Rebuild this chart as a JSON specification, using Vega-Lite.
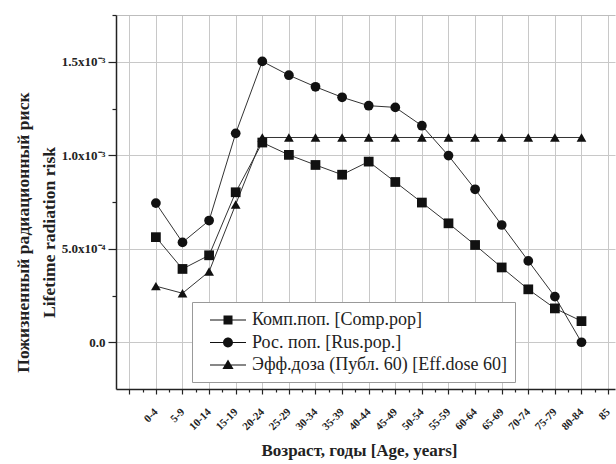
{
  "$schema": "https://vega.github.io/schema/vega-lite/v6.json",
  "width": 499,
  "height": 374,
  "autosize": "none",
  "padding": {"left": 116, "top": 15, "right": 1, "bottom": 75},
  "config": {
    "font": "Liberation Serif",
    "view": {"stroke": null},
    "axis": {
      "domainColor": "#222",
      "domainWidth": 1.5,
      "tickColor": "#222",
      "tickWidth": 1.2,
      "gridColor": "#c8c8c8",
      "gridWidth": 1,
      "labelFont": "Liberation Serif",
      "labelFontWeight": "bold",
      "labelFontSize": 11,
      "labelColor": "#222",
      "titleFont": "Liberation Serif",
      "titleFontWeight": "bold",
      "titleFontSize": 17,
      "titleColor": "#222"
    }
  },
  "datasets": {
    "risk": [
      {"age": "0-4", "i": 0, "series": "Комп.поп. [Comp.pop]", "v": 0.000562},
      {"age": "5-9", "i": 1, "series": "Комп.поп. [Comp.pop]", "v": 0.000392},
      {"age": "10-14", "i": 2, "series": "Комп.поп. [Comp.pop]", "v": 0.000465},
      {"age": "15-19", "i": 3, "series": "Комп.поп. [Comp.pop]", "v": 0.000802},
      {"age": "20-24", "i": 4, "series": "Комп.поп. [Comp.pop]", "v": 0.001068},
      {"age": "25-29", "i": 5, "series": "Комп.поп. [Comp.pop]", "v": 0.001002},
      {"age": "30-34", "i": 6, "series": "Комп.поп. [Comp.pop]", "v": 0.000948},
      {"age": "35-39", "i": 7, "series": "Комп.поп. [Comp.pop]", "v": 0.000896},
      {"age": "40-44", "i": 8, "series": "Комп.поп. [Comp.pop]", "v": 0.000966},
      {"age": "45-49", "i": 9, "series": "Комп.поп. [Comp.pop]", "v": 0.000857},
      {"age": "50-54", "i": 10, "series": "Комп.поп. [Comp.pop]", "v": 0.000747},
      {"age": "55-59", "i": 11, "series": "Комп.поп. [Comp.pop]", "v": 0.000636},
      {"age": "60-64", "i": 12, "series": "Комп.поп. [Comp.pop]", "v": 0.00052},
      {"age": "65-69", "i": 13, "series": "Комп.поп. [Comp.pop]", "v": 0.0004},
      {"age": "70-74", "i": 14, "series": "Комп.поп. [Comp.pop]", "v": 0.000283},
      {"age": "75-79", "i": 15, "series": "Комп.поп. [Comp.pop]", "v": 0.000181},
      {"age": "80-84", "i": 16, "series": "Комп.поп. [Comp.pop]", "v": 0.000113},
      {"age": "0-4", "i": 0, "series": "Рос. поп. [Rus.pop.]", "v": 0.000744},
      {"age": "5-9", "i": 1, "series": "Рос. поп. [Rus.pop.]", "v": 0.000534},
      {"age": "10-14", "i": 2, "series": "Рос. поп. [Rus.pop.]", "v": 0.000651},
      {"age": "15-19", "i": 3, "series": "Рос. поп. [Rus.pop.]", "v": 0.001117},
      {"age": "20-24", "i": 4, "series": "Рос. поп. [Rus.pop.]", "v": 0.001502},
      {"age": "25-29", "i": 5, "series": "Рос. поп. [Rus.pop.]", "v": 0.001428},
      {"age": "30-34", "i": 6, "series": "Рос. поп. [Rus.pop.]", "v": 0.001366},
      {"age": "35-39", "i": 7, "series": "Рос. поп. [Rus.pop.]", "v": 0.00131},
      {"age": "40-44", "i": 8, "series": "Рос. поп. [Rus.pop.]", "v": 0.001265},
      {"age": "45-49", "i": 9, "series": "Рос. поп. [Rus.pop.]", "v": 0.001256},
      {"age": "50-54", "i": 10, "series": "Рос. поп. [Rus.pop.]", "v": 0.001158},
      {"age": "55-59", "i": 11, "series": "Рос. поп. [Rus.pop.]", "v": 0.000998},
      {"age": "60-64", "i": 12, "series": "Рос. поп. [Rus.pop.]", "v": 0.000818},
      {"age": "65-69", "i": 13, "series": "Рос. поп. [Rus.pop.]", "v": 0.000627},
      {"age": "70-74", "i": 14, "series": "Рос. поп. [Rus.pop.]", "v": 0.000435},
      {"age": "75-79", "i": 15, "series": "Рос. поп. [Rus.pop.]", "v": 0.000244},
      {"age": "80-84", "i": 16, "series": "Рос. поп. [Rus.pop.]", "v": 0.0},
      {"age": "0-4", "i": 0, "series": "Эфф.доза (Публ. 60) [Eff.dose 60]", "v": 0.0003},
      {"age": "5-9", "i": 1, "series": "Эфф.доза (Публ. 60) [Eff.dose 60]", "v": 0.000262},
      {"age": "10-14", "i": 2, "series": "Эфф.доза (Публ. 60) [Eff.dose 60]", "v": 0.000378},
      {"age": "15-19", "i": 3, "series": "Эфф.доза (Публ. 60) [Eff.dose 60]", "v": 0.000737},
      {"age": "20-24", "i": 4, "series": "Эфф.доза (Публ. 60) [Eff.dose 60]", "v": 0.001095},
      {"age": "25-29", "i": 5, "series": "Эфф.доза (Публ. 60) [Eff.dose 60]", "v": 0.001095},
      {"age": "30-34", "i": 6, "series": "Эфф.доза (Публ. 60) [Eff.dose 60]", "v": 0.001095},
      {"age": "35-39", "i": 7, "series": "Эфф.доза (Публ. 60) [Eff.dose 60]", "v": 0.001095},
      {"age": "40-44", "i": 8, "series": "Эфф.доза (Публ. 60) [Eff.dose 60]", "v": 0.001095},
      {"age": "45-49", "i": 9, "series": "Эфф.доза (Публ. 60) [Eff.dose 60]", "v": 0.001095},
      {"age": "50-54", "i": 10, "series": "Эфф.доза (Публ. 60) [Eff.dose 60]", "v": 0.001095},
      {"age": "55-59", "i": 11, "series": "Эфф.доза (Публ. 60) [Eff.dose 60]", "v": 0.001095},
      {"age": "60-64", "i": 12, "series": "Эфф.доза (Публ. 60) [Eff.dose 60]", "v": 0.001095},
      {"age": "65-69", "i": 13, "series": "Эфф.доза (Публ. 60) [Eff.dose 60]", "v": 0.001095},
      {"age": "70-74", "i": 14, "series": "Эфф.доза (Публ. 60) [Eff.dose 60]", "v": 0.001095},
      {"age": "75-79", "i": 15, "series": "Эфф.доза (Публ. 60) [Eff.dose 60]", "v": 0.001095},
      {"age": "80-84", "i": 16, "series": "Эфф.доза (Публ. 60) [Eff.dose 60]", "v": 0.001095}
    ]
  },
  "data": {"name": "risk"},
  "layer": [
    {
      "mark": {"type": "line", "color": "#333", "strokeWidth": 1},
      "encoding": {
        "x": {
          "field": "i", "type": "quantitative",
          "scale": {"domain": [-1.5, 17.26], "nice": false, "zero": false},
          "axis": {
            "values": [-1, 0, 1, 2, 3, 4, 5, 6, 7, 8, 9, 10, 11, 12, 13, 14, 15, 16, 17],
            "labelExpr": "datum.value < 0 ? '' : datum.value > 16.5 ? '85' : ['0-4','5-9','10-14','15-19','20-24','25-29','30-34','35-39','40-44','45-49','50-54','55-59','60-64','65-69','70-74','75-79','80-84'][datum.value]",
            "labelAngle": -45,
            "labelAlign": "right",
            "labelBaseline": "middle",
            "labelPadding": 16,
            "labelFontSize": 11,
            "tickSize": 5,
            "grid": true,
            "title": "Возраст, годы [Age, years]",
            "titleX": 243,
            "titleY": 66,
            "titleBaseline": "alphabetic"
          }
        },
        "y": {
          "field": "v", "type": "quantitative",
          "scale": {"domain": [-0.00025, 0.00175], "nice": false, "zero": false},
          "axis": {
            "values": [0, 0.0005, 0.001, 0.0015],
            "labelExpr": "datum.value < 0.00001 ? '0.0' : datum.value < 0.0007 ? '5.0x10⁻⁴' : datum.value < 0.0012 ? '1.0x10⁻³' : '1.5x10⁻³'",
            "labelFontSize": 13,
            "tickSize": 8,
            "labelPadding": 3,
            "grid": true,
            "title": ["Пожизненный радиационный риск", "Lifetime radiation risk"],
            "titleFontSize": 17.6,
            "titleLineHeight": 26,
            "titleAngle": -90,
            "titleBaseline": "bottom",
            "titleX": -84,
            "titleY": 217
          }
        },
        "detail": {"field": "series"}
      }
    },
    {
      "mark": {"type": "point", "filled": true, "color": "#111", "opacity": 1, "size": 95},
      "encoding": {
        "x": {"field": "i", "type": "quantitative", "axis": null},
        "y": {"field": "v", "type": "quantitative", "axis": null},
        "shape": {
          "field": "series", "type": "nominal",
          "scale": {
            "domain": ["Комп.поп. [Comp.pop]", "Рос. поп. [Rus.pop.]", "Эфф.доза (Публ. 60) [Eff.dose 60]"],
            "range": ["square", "circle", "triangle-up"]
          },
          "legend": null
        }
      }
    },
    {
      "transform": [{"filter": "datum.v > 1"}],
      "mark": {"type": "point", "filled": true, "color": "#111", "opacity": 1},
      "encoding": {
        "x": {"field": "i", "type": "quantitative", "axis": null},
        "y": {"field": "v", "type": "quantitative", "axis": null},
        "shape": {
          "field": "series", "type": "nominal",
          "scale": {
            "domain": ["Комп.поп. [Comp.pop]", "Рос. поп. [Rus.pop.]", "Эфф.доза (Публ. 60) [Eff.dose 60]"],
            "range": [
              "M-2,-0.06H2V0.06H-2ZM-0.5,-0.5H0.5V0.5H-0.5Z",
              "M-2,-0.06H2V0.06H-2ZM-0.55,0A0.55,0.55,0,1,1,0.55,0A0.55,0.55,0,1,1,-0.55,0Z",
              "M-2,-0.06H2V0.06H-2ZM0,-0.6L0.62,0.45L-0.62,0.45Z"
            ]
          },
          "legend": {
            "title": null,
            "orient": "none",
            "legendX": 76,
            "legendY": 287,
            "padding": 8,
            "strokeColor": "#999",
            "fillColor": "white",
            "labelFont": "Liberation Serif",
            "labelFontSize": 18,
            "labelColor": "#222",
            "labelLimit": 400,
            "symbolSize": 324,
            "symbolOffset": 18,
            "labelOffset": 14,
            "rowPadding": 3.5,
            "symbolFillColor": "#111"
          }
        }
      }
    },
    {
      "mark": {"type": "point", "opacity": 0},
      "encoding": {
        "x": {
          "field": "i", "type": "quantitative",
          "axis": {
            "orient": "bottom",
            "values": [-0.5, 0.5, 1.5, 2.5, 3.5, 4.5, 5.5, 6.5, 7.5, 8.5, 9.5, 10.5, 11.5, 12.5, 13.5, 14.5, 15.5, 16.5],
            "labels": false, "grid": false, "domain": false, "tickSize": 3, "title": null
          }
        },
        "y": {
          "field": "v", "type": "quantitative",
          "axis": {
            "orient": "left",
            "values": [0.00025, 0.00075, 0.00125, 0.00175],
            "labels": false, "grid": false, "domain": false, "tickSize": 4, "title": null
          }
        }
      }
    },
    {
      "transform": [{"filter": "datum.v > 1"}],
      "mark": {"type": "point", "opacity": 0},
      "encoding": {
        "x": {"field": "i", "type": "quantitative", "axis": null},
        "y": {
          "field": "v", "type": "quantitative",
          "axis": {
            "orient": "left",
            "values": [0.00175],
            "labels": false, "ticks": false, "domain": false, "grid": true, "gridColor": "#bdbdbd", "title": null
          }
        }
      }
    }
  ],
  "resolve": {"scale": {"shape": "independent"}, "axis": {"x": "independent", "y": "independent"}}
}
